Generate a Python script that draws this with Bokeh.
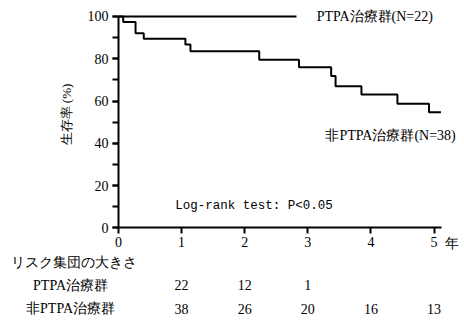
from bokeh.plotting import figure
from bokeh.models import Range1d, SingleIntervalTicker, Label, LabelSet, ColumnDataSource
from bokeh.embed import file_html
from bokeh.resources import INLINE
import math

# ---- data ----
ptpa_t = [0.0, 2.82]
ptpa_s = [100.0, 100.0]
non_t = [0.0, 0.075, 0.27, 0.40, 1.06, 1.14, 2.23, 2.86, 3.37, 3.44, 3.85, 4.42, 4.92, 5.11]
non_s = [100.0, 97.4, 92.1, 89.5, 86.8, 83.5, 79.5, 76.0, 71.8, 67.0, 63.1, 58.7, 54.7, 54.7]
risk_times_ptpa = [1, 2, 3]
risk_ptpa = ["22", "12", "1"]
risk_times_non = [1, 2, 3, 4, 5]
risk_non = ["38", "26", "20", "16", "13"]
ptpa_label = "PTPA治療群(N=22)"
non_label = "非PTPA治療群(N=38)"
test_label = "Log-rank test: P<0.05"
y_title = "生存率 (%)"
x_unit = "年"
risk_title = "リスク集団の大きさ"
row_labels = ["PTPA治療群", "非PTPA治療群"]

SERIF = "Liberation Serif"
FS = "14px"

p = figure(width=464, height=321, output_backend="svg", toolbar_location=None,
           x_range=Range1d(-1.870, 5.483), y_range=Range1d(-44.34, 107.57),
           min_border_left=0, min_border_right=0, min_border_top=0, min_border_bottom=0)
p.outline_line_color = None
p.xgrid.visible = False
p.ygrid.visible = False
p.background_fill_color = "white"
p.border_fill_color = "white"

p.step(ptpa_t, ptpa_s, mode="after", line_color="black", line_width=2)
p.step(non_t, non_s, mode="after", line_color="black", line_width=2)

for ax in (p.xaxis[0], p.yaxis[0]):
    ax.fixed_location = 0
    ax.axis_line_color = "black"
    ax.axis_line_width = 2
    ax.major_tick_line_color = "black"
    ax.major_tick_line_width = 2
    ax.minor_tick_line_color = "black"
    ax.minor_tick_line_width = 2
    ax.major_tick_in = 0
    ax.major_tick_out = 6
    ax.minor_tick_in = 0
    ax.minor_tick_out = 6
    ax.major_label_text_font = SERIF
    ax.major_label_text_font_size = FS
    ax.major_label_text_color = "black"

p.xaxis.bounds = (0, 5.12)
p.yaxis.bounds = (0, 100)
p.xaxis.ticker = SingleIntervalTicker(interval=1, num_minor_ticks=0)
p.yaxis.ticker = SingleIntervalTicker(interval=20, num_minor_ticks=2)
p.xaxis.major_label_standoff = 3
p.yaxis.major_label_standoff = 4

def lab(x, y, text, align="left", font=SERIF, size=FS, angle=0):
    p.add_layout(Label(x=x, y=y, text=text, text_font=font, text_font_size=size,
                       text_align=align, text_baseline="middle", text_color="black",
                       angle=angle))

lab(3.14, 100.0, ptpa_label)
lab(3.28, 43.7, non_label)
lab(0.90, 10.1, test_label, font="Liberation Mono", size="12.5px")
lab(-0.82, 53.6, y_title, align="center", size="13px", angle=math.pi / 2)
lab(5.18, -7.4, x_unit)
lab(-1.71, -16.4, risk_title)
lab(-0.76, -27.3, row_labels[0], align="center")
lab(-0.76, -38.3, row_labels[1], align="center")

src1 = ColumnDataSource(dict(x=risk_times_ptpa, y=[-27.3] * len(risk_times_ptpa), t=risk_ptpa))
src2 = ColumnDataSource(dict(x=risk_times_non, y=[-38.3] * len(risk_times_non), t=risk_non))
for s in (src1, src2):
    p.add_layout(LabelSet(x="x", y="y", text="t", source=s, text_font=SERIF, text_font_size=FS,
                          text_align="center", text_baseline="middle", text_color="black"))

open("out.html", "w").write(file_html(p, INLINE))
